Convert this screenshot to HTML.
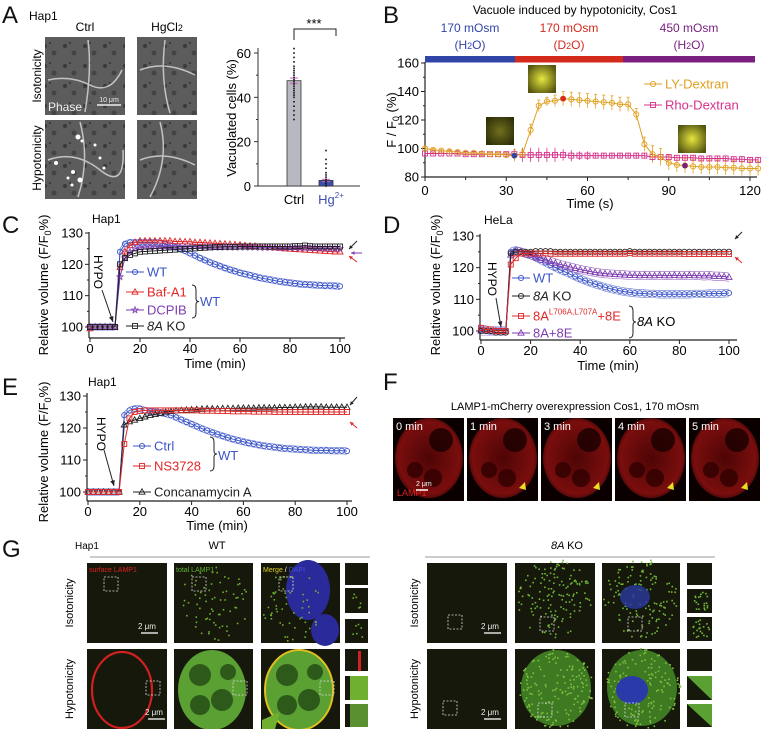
<!DOCTYPE html>
<html><head><meta charset="utf-8">
<style>
html,body{margin:0;padding:0;background:#fff;}
svg{display:block;font-family:"Liberation Sans",Arial,sans-serif;}
</style></head>
<body>
<svg id="fig" width="762" height="729" viewBox="0 0 762 729" xmlns="http://www.w3.org/2000/svg">
<defs>
<radialGradient id="redcell" cx="50%" cy="50%" r="60%"><stop offset="0" stop-color="#5a0606"/><stop offset="0.75" stop-color="#8e1010"/><stop offset="1" stop-color="#120000"/></radialGradient>
<radialGradient id="yel" cx="50%" cy="50%" r="60%"><stop offset="0" stop-color="#e6e640"/><stop offset="1" stop-color="#555510"/></radialGradient>
<radialGradient id="yeld" cx="50%" cy="50%" r="60%"><stop offset="0" stop-color="#707020"/><stop offset="1" stop-color="#303008"/></radialGradient>
<pattern id="phase" width="20" height="20" patternUnits="userSpaceOnUse"><rect width="20" height="20" fill="#5c5c5c"/><circle cx="5" cy="6" r="2" fill="#3a3a3a"/><circle cx="14" cy="13" r="2.5" fill="#444"/><circle cx="10" cy="3" r="1" fill="#333"/></pattern>
</defs>

<g font-size="24" fill="#111">
<text x="2" y="23">A</text>
<text x="383" y="23">B</text>
<text x="2" y="233">C</text>
<text x="383" y="233">D</text>
<text x="2" y="395">E</text>
<text x="383" y="390">F</text>
<text x="2" y="557">G</text>
</g>

<g>
<text x="29" y="20" font-size="12">Hap1</text>
<text x="85" y="31" font-size="12" text-anchor="middle">Ctrl</text>
<text x="167" y="31" font-size="12" text-anchor="middle">HgCl<tspan font-size="9">2</tspan></text>
<text transform="translate(41,76) rotate(-90)" font-size="12" text-anchor="middle">Isotonicity</text>
<text transform="translate(41,158) rotate(-90)" font-size="12" text-anchor="middle">Hypotonicity</text>
<rect x="45" y="37" width="80" height="78" fill="url(#phase)"/>
<rect x="137" y="37" width="60" height="78" fill="url(#phase)"/>
<rect x="45" y="120" width="80" height="79" fill="url(#phase)"/>
<rect x="137" y="120" width="60" height="79" fill="url(#phase)"/>
<g stroke="#ddd" stroke-width="1.5" fill="none" opacity="0.8">
<path d="M48,80 Q70,75 90,85 T122,70"/><path d="M88,40 Q92,70 85,112"/>
<path d="M140,70 Q165,60 195,75"/><path d="M165,40 Q160,80 170,113"/>
<path d="M48,160 Q75,150 100,170 T123,150"/><path d="M80,122 Q90,160 78,197"/>
<path d="M140,160 Q165,150 195,165"/><path d="M160,122 Q170,160 150,197"/>
</g>
<g fill="#fff">
<circle cx="78" cy="137" r="2.5"/><circle cx="82" cy="141" r="1.5"/><circle cx="56" cy="163" r="2"/><circle cx="73" cy="172" r="2"/><circle cx="80" cy="180" r="2.5"/><circle cx="72" cy="185" r="1.5"/><circle cx="100" cy="158" r="1.5"/><circle cx="104" cy="168" r="1.5"/><circle cx="68" cy="178" r="1.5"/><circle cx="95" cy="145" r="1.5"/>
</g>
<text x="48" y="111" font-size="12" fill="#eee">Phase</text>
<line x1="97" y1="105" x2="121" y2="105" stroke="#eee" stroke-width="1.5"/>
<text x="109" y="102" font-size="7" fill="#eee" text-anchor="middle">10 μm</text>
</g>
<g id="panelA"></g>
<g id="panelB"></g>
<g id="panelC"></g>
<g id="panelD"></g>
<g id="panelE"></g>

<g>
<text x="575" y="410" font-size="11" text-anchor="middle">LAMP1-mCherry overexpression Cos1, 170 mOsm</text>
<g id="fimgs"></g>
</g>

<g>
<text x="75" y="549" font-size="10">Hap1</text>
<text x="217" y="549" font-size="11" text-anchor="middle">WT</text>
<line x1="90" y1="557" x2="370" y2="557" stroke="#999"/>
<text x="567" y="549" font-size="11" text-anchor="middle" font-style="italic">8A <tspan font-style="normal">KO</tspan></text>
<line x1="425" y1="557" x2="715" y2="557" stroke="#999"/>
<g id="gimgs"></g>
</g>
</svg>

<script>
// ---------- DATA ----------
const barCats = ["Ctrl", "Hg2+"];
const barVals = [47.5, 2.5];
const barErr = [1.2, 0.5];
const bTimes = [0,3,6,9,12,15,18,21,24,27,30,33,36,39,42,45,48,51,54,57,60,63,66,69,72,75,78,81,84,87,90,93,96,99,102,105,108,111,114,117,120,123];
const bLY = [100,99,98.5,98,97.5,97,97,96.5,96,96,95.5,95,96,113,130,133,133.5,135,134.5,134,133.5,133,132.5,132,131,131,124,103,96,94,90,88.5,88,87.5,87,87,87,86.5,86.5,86,86,86];
const bLYerr = [1,1,1,1,1,1,1,1,1,1,2,4,3,4,4,3,4,5,5,5,5,5,5,5,5,5,4,5,6,6,5,5,5,5,5,5,5,5,5,5,5,5];
const bRho = [96.5,96.5,96.5,96.5,96.5,96,96,96,96,96,96,96,95.5,95.5,95.5,95.5,95.5,95.5,95,95,95,95,95,95,95,95,95,95,94,94,94,93.5,93.5,93.5,93,93,93,93,92.5,92.5,92,92];
const bRhoErr = [1,1,1,1,1,1,1,1,1,1,2,4,5,5,5,5,5,4,4,3,3,2,2,2,2,2,2,2,3,3,2,2,2,2,2,2,2,2,2,2,2,2];
const bTicksX = [0,30,60,90,120];
const bTicksY = [80,100,120,140,160];
const tMin = [0,2,4,6,8,10,12,14,16,18,20,22,24,26,28,30,32,34,36,38,40,42,44,46,48,50,52,54,56,58,60,62,64,66,68,70,72,74,76,78,80,82,84,86,88,90,92,94,96,98,100];
const cWT = [100,100,100,100,100,100,124,126.5,127,127,127,127,127,127,126.8,126.5,126,125.5,125,124.3,123.5,122.8,122,121.3,120.6,120,119.4,118.8,118.3,117.8,117.3,116.9,116.5,116.1,115.7,115.4,115.1,114.8,114.5,114.3,114.1,113.9,113.7,113.6,113.5,113.4,113.3,113.2,113.2,113.1,113];
const cBaf = [99.5,100,100,100,100,100,119,124,126,127,127.5,127.5,127.5,127.5,127.5,127.5,127.5,127.3,127.3,127.2,127.2,127,127,126.9,126.8,126.7,126.6,126.5,126.4,126.3,126.2,126,125.9,125.8,125.6,125.5,125.4,125.3,125.2,125,124.9,124.8,124.7,124.6,124.5,124.4,124.3,124.2,124.1,124,124];
const cDCPIB = [100,100,100,100,100,100,116,122,124,125,125.3,125.5,125.5,125.6,125.6,125.6,125.6,125.6,125.6,125.6,125.6,125.6,125.6,125.6,125.6,125.5,125.5,125.5,125.5,125.5,125.5,125.5,125.5,125.5,125.4,125.4,125.4,125.4,125.3,125.3,125.3,125.3,125.2,125.2,125.2,125.2,125.1,125.1,125.1,125,125];
const cKO = [100,100,100,100,100,100,120,122,123,123.5,124,124.1,124.2,124.3,124.4,124.5,124.6,124.7,124.8,124.9,125,125.1,125.2,125.3,125.4,125.5,125.5,125.6,125.6,125.6,125.7,125.7,125.7,125.7,125.7,125.7,125.7,125.7,125.7,125.7,125.7,125.8,125.8,126,125.8,125.7,125.7,125.7,125.7,125.7,125.7];
const dWT = [100.5,100.5,100,100,100,100,125,125.5,125,124.5,124,123.2,122.4,121.6,120.8,120,119.3,118.6,117.9,117.2,116.5,115.9,115.3,114.8,114.3,113.8,113.4,113,112.7,112.4,112.2,112,111.9,111.8,111.7,111.7,111.6,111.6,111.6,111.6,111.6,111.6,111.6,111.7,111.7,111.7,111.8,111.8,111.8,111.9,112];
const dKO = [100,100,100,99.5,99.5,99.5,124.5,125,125,125,125,125.2,125.2,125.2,125.2,125,125,125,125,125,125,125,125,125,125,125,125,125,125,125,125.2,125,125,125,125,125,125,125,125,125,125,125,125,125,125,125,125,125,125,125,125];
const dMut = [101,100.5,100.5,100,100,100,121,123,124.5,124.5,124.5,124.5,124.5,124.5,124.4,124.4,124.4,124.4,124.4,124.4,124.4,124.4,124.4,124.4,124.4,124.4,124.4,124.4,124.4,124.4,124.6,124.4,124.4,124.4,124.4,124.4,124.4,124.4,124.4,124.4,124.4,124.3,124.3,124.3,124.3,124.3,124.3,124.3,124.3,124.3,124.3];
const d8A8E = [100,100,100,100,100,100,124,125,125,124.5,124,123.5,123,122.5,122,121.5,121,120.6,120.2,119.8,119.4,119.1,118.8,118.5,118.3,118.1,118,117.9,117.8,117.7,117.6,117.6,117.5,117.6,117.5,117.5,117.6,117.5,117.5,117.6,117.5,117.5,117.6,117.5,117.5,117.4,117.5,117.3,117.3,117.2,117];
const eCtrl = [100,100,100,100,100,100,100,124,125.5,126,126,125.5,125.2,125,124.8,124.5,124,123.3,122.6,121.9,121.2,120.5,119.8,119.2,118.6,118,117.5,117,116.5,116.1,115.7,115.3,115,114.7,114.4,114.2,114,113.8,113.6,113.5,113.4,113.3,113.2,113.1,113,113,113,112.9,112.9,112.9,112.8];
const eNS = [100,100,100,100,100,100,100,115,123,125,125.3,125.5,125.5,125.5,125.5,125.5,125.5,125.5,125.5,125.5,125.5,125.5,125.4,125.4,125.4,125.3,125.3,125.3,125.2,125.2,125.2,125.2,125.1,125.1,125.1,125.1,125,125,125,125,125,125,125,125,125,125,125,125,125,125,125];
const eCon = [100,100,100,100,100,100,100,121,122,122.5,123,123.5,124,124.3,124.6,125,125.2,125.4,125.5,125.6,125.7,125.8,125.9,126,126,126,126.1,126.1,126.1,126.2,126.2,126.2,126.2,126.3,126.3,126.3,126.3,126.4,126.4,126.4,126.5,126.5,126.6,126.6,126.6,126.6,126.5,126.5,126.5,126.5,126.5];
const tickMin = [0,20,40,60,80,100];
const tickVol = [100,110,120,130];

// ---------- HELPERS ----------
const NS = "http://www.w3.org/2000/svg";
function mk(parent, tag, attrs, text){
  const el = document.createElementNS(NS, tag);
  for (const k in attrs) el.setAttribute(k, attrs[k]);
  if (text !== undefined) el.textContent = text;
  parent.appendChild(el);
  return el;
}
function lin(d0,d1,r0,r1){ return v => r0 + (v-d0)*(r1-r0)/(d1-d0); }

function marker(g, type, cx, cy, color, filled){
  let el;
  const fill = filled ? color : "none";
  if (type==="circle") el = mk(g,"circle",{cx:cx,cy:cy,r:2.6,fill:fill,stroke:color,"stroke-width":0.9});
  else if (type==="square") el = mk(g,"rect",{x:cx-2.5,y:cy-2.5,width:5,height:5,fill:fill,stroke:color,"stroke-width":0.9});
  else if (type==="triangle") el = mk(g,"polygon",{points:`${cx},${cy-3.2} ${cx-3},${cy+2.2} ${cx+3},${cy+2.2}`,fill:fill,stroke:color,"stroke-width":0.9});
  else {
    let p=[]; for(let i=0;i<10;i++){const r=i%2?1.4:3.3;const a=-Math.PI/2+i*Math.PI/5;p.push((cx+r*Math.cos(a)).toFixed(1)+","+(cy+r*Math.sin(a)).toFixed(1));}
    el = mk(g,"polygon",{points:p.join(" "),fill:fill,stroke:color,"stroke-width":0.8});
  }
  
  
  return el;
}

function series(g, xs, ys, X, Y, color, type, name, band){
  const sg = mk(g,"g",{});
  
  
  if (band){
    [band,-band].forEach(o=>{
      const ln = mk(sg,"polyline",{points:xs.map((x,i)=>X(x)+","+Y(ys[i]+o)).join(" "),fill:"none",stroke:color,"stroke-width":0.6,opacity:0.8});
      
      
    });
  }
  const pl = mk(sg,"polyline",{points:xs.map((x,i)=>X(x)+","+Y(ys[i])).join(" "),fill:"none",stroke:color,"stroke-width":1});
  
  
  xs.forEach((x,i)=>marker(sg,type,X(x),Y(ys[i]),color,false));
}

function axes(g, X, Y, xt, yt, x0, x1, yb, yTop, minorY, xlabelY, title, titleX, titleY, ylab, ylabX, ylabY){
  const ax = mk(g,"line",{x1:x0,y1:yb,x2:x1,y2:yb,stroke:"#222","stroke-width":1.2});
  
  
  const ay = mk(g,"line",{x1:x0,y1:yb,x2:x0,y2:yTop,stroke:"#222","stroke-width":1.2});
  
  
  xt.forEach(v=>{
    mk(g,"line",{x1:X(v),y1:yb,x2:X(v),y2:yb+4,stroke:"#222"});
    const t = mk(g,"text",{x:X(v),y:xlabelY,"font-size":13,"text-anchor":"middle"},String(v));
    
    
  });
  yt.forEach(v=>{
    mk(g,"line",{x1:x0-4,y1:Y(v),x2:x0,y2:Y(v),stroke:"#222"});
    const t = mk(g,"text",{x:x0-6,y:Y(v)+4.5,"font-size":13,"text-anchor":"end"},String(v));
    
    
  });
  if (minorY){
    for(let i=0;i<yt.length-1;i++){const m=(yt[i]+yt[i+1])/2; mk(g,"line",{x1:x0-2,y1:Y(m),x2:x0,y2:Y(m),stroke:"#222"});}
  }
  const xt2 = mk(g,"text",{x:titleX,y:titleY,"font-size":13,"text-anchor":"middle"},title);
  
  
  const yl = mk(g,"text",{transform:`translate(${ylabX},${ylabY}) rotate(-90)`,"font-size":13,"text-anchor":"middle"});
  yl.innerHTML = ylab;
  
  
}

function legendItem(g, x, y, type, color, label){
  const lg = mk(g,"g",{});
  
  
  mk(lg,"line",{x1:x,y1:y,x2:x+18,y2:y,stroke:color,"stroke-width":1});
  marker(lg,type,x+9,y,color,false);
  const t = mk(lg,"text",{x:x+21,y:y+4.5,"font-size":13,fill:color});
  t.innerHTML = label;
  return lg;
}
function hypo(g, x, y, ax1, ay1, ax2, ay2){
  const t = mk(g,"text",{transform:`translate(${x},${y}) rotate(90)`,"font-size":12,"text-anchor":"start"},"HYPO");
  
  
  const a = mk(g,"line",{x1:ax1,y1:ay1,x2:ax2,y2:ay2,stroke:"#222","stroke-width":1});
  
  
  const ang = Math.atan2(ay2-ay1, ax2-ax1);
  const p = [[ax2,ay2],[ax2-6*Math.cos(ang-0.4),ay2-6*Math.sin(ang-0.4)],[ax2-6*Math.cos(ang+0.4),ay2-6*Math.sin(ang+0.4)]];
  mk(g,"polygon",{points:p.map(q=>q.join(",")).join(" "),fill:"#222"});
}
function sideArrow(g, x1,y1,x2,y2,color){
  const a = mk(g,"line",{x1:x1,y1:y1,x2:x2,y2:y2,stroke:color,"stroke-width":1});
  
  
  const ang = Math.atan2(y2-y1, x2-x1);
  mk(g,"polygon",{points:[[x2,y2],[x2-4*Math.cos(ang-0.5),y2-4*Math.sin(ang-0.5)],[x2-4*Math.cos(ang+0.5),y2-4*Math.sin(ang+0.5)]].map(q=>q.join(",")).join(" "),fill:color});
}
function brace(g, x, y1, y2){
  const m=(y1+y2)/2;
  const b = mk(g,"path",{d:`M${x},${y1} Q${x+4},${y1} ${x+4},${y1+5} L${x+4},${m-3} Q${x+4},${m} ${x+7},${m} Q${x+4},${m} ${x+4},${m+3} L${x+4},${y2-5} Q${x+4},${y2} ${x},${y2}`,fill:"none",stroke:"#222","stroke-width":1});
  
  
}

// ---------- PANEL A ----------
(function(){
  const g = document.getElementById("panelA");
  const Y = lin(0,60,186,53);
  const cx = [294, 326];
  const colors = ["#b8b8c0","#3a4fb0"];
  mk(g,"line",{x1:258,y1:186,x2:360,y2:186,stroke:"#333","stroke-width":1});
  mk(g,"line",{x1:258,y1:186,x2:258,y2:48,stroke:"#333","stroke-width":1});
  [0,20,40,60].forEach(v=>{
    mk(g,"line",{x1:254,y1:Y(v),x2:258,y2:Y(v),stroke:"#333"});
    const t=mk(g,"text",{x:251,y:Y(v)+5,"font-size":13,"text-anchor":"end"},String(v));
    
    
  });
  [10,30,50].forEach(v=>mk(g,"line",{x1:256,y1:Y(v),x2:258,y2:Y(v),stroke:"#333"}));
  barVals.forEach((v,i)=>{
    const r = mk(g,"rect",{x:cx[i]-7,y:Y(v),width:14,height:Y(0)-Y(v),fill:colors[i],stroke:"#333","stroke-width":0.8});
    
    
    mk(g,"line",{x1:cx[i]-4,y1:Y(v+barErr[i]),x2:cx[i]+4,y2:Y(v+barErr[i]),stroke:"#c060c0"});
    mk(g,"line",{x1:cx[i]-4,y1:Y(v-barErr[i]),x2:cx[i]+4,y2:Y(v-barErr[i]),stroke:"#c060c0"});
  });
  const dotsCtrl=[30,32,34,36,38,40,41,42,43,44,45,46,47,48,49,50,51,52,53,54,56,58,60,62];
  const dotsHg=[0,1,2,3,4,5,6,8,10,12,16];
  dotsCtrl.forEach(v=>{const d=mk(g,"rect",{x:cx[0]-0.8,y:Y(v)-0.8,width:1.6,height:1.6,fill:"#111"});});
  dotsHg.forEach(v=>{const d=mk(g,"rect",{x:cx[1]-0.8,y:Y(v)-0.8,width:1.6,height:1.6,fill:"#111"});});
  mk(g,"path",{d:"M294,40 L294,29 L336,29 L336,36",fill:"none",stroke:"#222"});
  const s=mk(g,"text",{x:314,y:28,"font-size":13,"text-anchor":"middle"},"***");
  
  
  const l1=mk(g,"text",{x:cx[0],y:204,"font-size":13,"text-anchor":"middle"},"Ctrl");
  
  
  const l2=mk(g,"text",{x:331,y:204,"font-size":13,"text-anchor":"middle",fill:"#3a4fb0"});
  l2.innerHTML='Hg<tspan font-size="8" dy="-6">2+</tspan>';
  
  
  const yl=mk(g,"text",{transform:"translate(236,118) rotate(-90)","font-size":13,"text-anchor":"middle"},"Vacuolated cells (%)");
  
  
})();

// ---------- PANEL B ----------
(function(){
  const g = document.getElementById("panelB");
  const X = lin(0,120,425,750), Y = lin(80,160,177,63);
  const t=mk(g,"text",{x:575,y:14,"font-size":12,"text-anchor":"middle"},"Vacuole induced by hypotonicity, Cos1");
  
  
  const segs=[[425,515,"#3144a8","170 mOsm","(H<tspan font-size='9'>2</tspan>O)"],[515,623,"#d42a1c","170 mOsm","(D<tspan font-size='9'>2</tspan>O)"],[623,755,"#7a2080","450 mOsm","(H<tspan font-size='9'>2</tspan>O)"]];
  segs.forEach(s=>{
    const r=mk(g,"rect",{x:s[0],y:56,width:s[1]-s[0],height:6.5,fill:s[2]});
    
    
    const a=mk(g,"text",{x:(s[0]+s[1])/2,y:32,"font-size":12,"text-anchor":"middle",fill:s[2]},s[3]);
    
    
    const b=mk(g,"text",{x:(s[0]+s[1])/2,y:49,"font-size":12,"text-anchor":"middle",fill:s[2]});
    b.innerHTML=s[4];
    
    
  });
  [[486,117,28,28,"url(#yeld)"],[528,65,28,28,"url(#yel)"],[678,125,28,28,"url(#yel)"]].forEach(r=>{
    const e=mk(g,"rect",{x:r[0],y:r[1],width:r[2],height:r[3],fill:r[4]});
    
    
  });
  axes(g,X,Y,bTicksX,bTicksY,425,757,177,62,true,195,"Time (s)",590,208,"F / F<tspan font-size='9' dy='3'>0</tspan><tspan dy='-3'> (%)</tspan>",396,120);
  [15,45,75,105].forEach(v=>mk(g,"line",{x1:X(v),y1:177,x2:X(v),y2:180,stroke:"#222"}));
  const cY="#e0a020", cR="#d6308a";
  bTimes.forEach((tt,i)=>{
    mk(g,"line",{x1:X(tt),y1:Y(bRho[i]-bRhoErr[i]),x2:X(tt),y2:Y(bRho[i]+bRhoErr[i]),stroke:cR,"stroke-width":0.8});
    mk(g,"line",{x1:X(tt),y1:Y(bLY[i]-bLYerr[i]),x2:X(tt),y2:Y(bLY[i]+bLYerr[i]),stroke:cY,"stroke-width":0.8});
    mk(g,"line",{x1:X(tt)-1.5,y1:Y(bLY[i]+bLYerr[i]),x2:X(tt)+1.5,y2:Y(bLY[i]+bLYerr[i]),stroke:cY,"stroke-width":0.8});
  });
  series(g,bTimes,bRho,X,Y,cR,"square","rho-dextran-series");
  series(g,bTimes,bLY,X,Y,cY,"circle","ly-dextran-series");
  [[33,"#3144a8"],[51,"#d42a1c"],[96,"#7a2080"]].forEach(p=>{
    const i=bTimes.indexOf(p[0]);
    const c=mk(g,"circle",{cx:X(p[0]),cy:Y(bLY[i]),r:2.8,fill:p[1]});
    
    
  });
  legendItem(g,644,84,"circle",cY,"LY-Dextran");
  legendItem(g,644,105,"square",cR,"Rho-Dextran");
})();

const volLab = "Relative volume (F/F<tspan font-size='9' dy='3'>0</tspan><tspan dy='-3'>%)</tspan>";
const BLUE="#3b55c8", RED="#e02828", PURP="#7d3cb0", BLK="#222";

// ---------- PANEL C ----------
(function(){
  const g = document.getElementById("panelC");
  const X = lin(0,100,90,340), Y = lin(100,130,327,233);
  mk(g,"text",{x:92,y:223,"font-size":12},"Hap1");
  axes(g,X,Y,tickMin,tickVol,89,345,338,232,true,353,"Time (min)",215,368,volLab,48,285);
  series(g,tMin,cWT,X,Y,BLUE,"circle","series-wt",1.0);
  series(g,tMin,cBaf,X,Y,RED,"triangle","series-baf-a1");
  series(g,tMin,cDCPIB,X,Y,PURP,"star","series-dcpib");
  series(g,tMin,cKO,X,Y,BLK,"square","series-8a-ko");
  legendItem(g,126,272,"circle",BLUE,"WT");
  legendItem(g,126,292,"triangle",RED,"Baf-A1");
  legendItem(g,126,310,"star",PURP,"DCPIB");
  legendItem(g,126,326,"square",BLK,"<tspan font-style='italic'>8A</tspan> KO");
  brace(g,192,285,318);
  mk(g,"text",{x:200,y:306,"font-size":13,fill:BLUE},"WT");
  hypo(g,94,255,102,290,113,322);
  sideArrow(g,357,241,349,249,BLK);
  sideArrow(g,362,253,351,253,PURP);
  sideArrow(g,357,262,349,256,RED);
})();

// ---------- PANEL D ----------
(function(){
  const g = document.getElementById("panelD");
  const X = lin(0,100,481,729), Y = lin(100,130,331,236);
  mk(g,"text",{x:484,y:224,"font-size":12},"HeLa");
  axes(g,X,Y,tickMin,tickVol,480,737,340,234,true,355,"Time (min)",608,370,volLab,440,285);
  series(g,tMin,dWT,X,Y,BLUE,"circle","series-wt",1.2);
  series(g,tMin,d8A8E,X,Y,PURP,"triangle","series-8a-8e",1.3);
  series(g,tMin,dKO,X,Y,BLK,"circle","series-8a-ko");
  series(g,tMin,dMut,X,Y,RED,"square","series-8a-mutant-8e");
  legendItem(g,512,278,"circle",BLUE,"WT");
  legendItem(g,512,296,"circle",BLK,"<tspan font-style='italic'>8A</tspan> KO");
  legendItem(g,512,316,"square",RED,"8A<tspan font-size='8' dy='-6'>L706A,L707A</tspan><tspan dy='6'>+8E</tspan>");
  legendItem(g,512,333,"triangle",PURP,"8A+8E");
  brace(g,629,306,338);
  mk(g,"text",{x:637,y:326,"font-size":13},"").innerHTML="<tspan font-style='italic'>8A</tspan> KO";
  hypo(g,488,262,496,298,501,327);
  sideArrow(g,742,232,735,239,BLK);
  sideArrow(g,742,263,735,257,RED);
})();

// ---------- PANEL E ----------
(function(){
  const g = document.getElementById("panelE");
  const X = lin(0,100,88,347), Y = lin(100,130,492,396);
  mk(g,"text",{x:88,y:386,"font-size":12},"Hap1");
  axes(g,X,Y,tickMin,tickVol,87,352,501,393,true,516,"Time (min)",217,530,volLab,48,452);
  series(g,tMin,eCtrl,X,Y,BLUE,"circle","series-ctrl",1.0);
  series(g,tMin,eCon,X,Y,BLK,"triangle","series-concanamycin-a");
  series(g,tMin,eNS,X,Y,RED,"square","series-ns3728");
  legendItem(g,133,446,"circle",BLUE,"Ctrl");
  legendItem(g,133,466,"square",RED,"NS3728");
  legendItem(g,133,492,"triangle",BLK,"Concanamycin A");
  brace(g,210,437,471);
  mk(g,"text",{x:218,y:460,"font-size":13,fill:BLUE},"WT");
  hypo(g,97,417,104,450,114,486);
  sideArrow(g,357,397,350,405,BLK);
  sideArrow(g,357,428,350,422,RED);
})();

// ---------- PANEL F images ----------
(function(){
  const g = document.getElementById("fimgs");
  const labels=["0 min","1 min","3 min","4 min","5 min"];
  labels.forEach((lb,i)=>{
    const x=393+i*74;
    const r=mk(g,"rect",{x:x,y:418,width:71,height:83,fill:"#0a0000"});
    
    
    mk(g,"ellipse",{cx:x+36,cy:458,rx:34,ry:40,fill:"url(#redcell)",opacity:0.85});
    mk(g,"circle",{cx:x+48,cy:440,r:12,fill:"#180000",opacity:0.8});
    mk(g,"circle",{cx:x+22,cy:470,r:8,fill:"#300000",opacity:0.8});
    mk(g,"circle",{cx:x+40,cy:478,r:9,fill:"#300000",opacity:0.8});
    const t=mk(g,"text",{x:x+3,y:430,"font-size":11,fill:"#fff"},lb);
    
    
    if(i>0){mk(g,"polygon",{points:`${x+52},${488} ${x+58},${482} ${x+59},${490}`,fill:"#e8e020"});}
  });
  mk(g,"text",{x:397,y:496,"font-size":9,fill:"#e02020"},"LAMP1");
  mk(g,"line",{x1:416,y1:490,x2:428,y2:490,stroke:"#fff","stroke-width":1.5});
  mk(g,"text",{x:416,y:486,"font-size":7,fill:"#fff"},"2 μm");
})();

// ---------- PANEL G images ----------
(function(){
  const g = document.getElementById("gimgs");
  const BG="#15180a";
  function img(x,y,w,h,name){const r=mk(g,"rect",{x:x,y:y,width:w,height:h,fill:BG});return r;}
  function box(x,y){mk(g,"rect",{x:x,y:y,width:14,height:14,fill:"none",stroke:"#ddd","stroke-width":0.8,"stroke-dasharray":"2,1.5"});}
  function speck(cx,cy,rx,ry,n,color,seed){let s=seed;for(let i=0;i<n;i++){s=(s*9301+49297)%233280;const a=s/233280*6.283;s=(s*9301+49297)%233280;const rr=Math.sqrt(s/233280);mk(g,"rect",{x:cx+Math.cos(a)*rx*rr,y:cy+Math.sin(a)*ry*rr,width:1.6,height:1.6,fill:color});}}
  mk(g,"text",{transform:"translate(73,603) rotate(-90)","font-size":11,"text-anchor":"middle"},"Isotonicity");
  mk(g,"text",{transform:"translate(73,689) rotate(-90)","font-size":11,"text-anchor":"middle"},"Hypotonicity");
  mk(g,"text",{transform:"translate(418,603) rotate(-90)","font-size":11,"text-anchor":"middle"},"Isotonicity");
  mk(g,"text",{transform:"translate(418,689) rotate(-90)","font-size":11,"text-anchor":"middle"},"Hypotonicity");
  img(87,563,80,80,"wt-iso-surface"); box(104,577);
  img(174,563,79,80,"wt-iso-total"); speck(213,603,35,38,70,"#6fb030",3); box(192,577);
  img(261,563,79,80,"wt-iso-merge"); mk(g,"ellipse",{cx:308,cy:590,rx:22,ry:30,fill:"#2a2a9a"}); mk(g,"ellipse",{cx:325,cy:630,rx:14,ry:16,fill:"#2a2a9a"}); speck(290,605,30,36,55,"#6fb030",7); box(279,577);
  img(87,649,80,80,"wt-hypo-surface"); mk(g,"ellipse",{cx:122,cy:690,rx:30,ry:38,fill:"none",stroke:"#d02020","stroke-width":2.2});
  img(174,649,79,80,"wt-hypo-total"); mk(g,"ellipse",{cx:212,cy:690,rx:34,ry:40,fill:"#5aa032"}); [[200,675,11],[222,700,11],[200,705,10],[228,672,8]].forEach(c=>mk(g,"circle",{cx:c[0],cy:c[1],r:c[2],fill:"#2d5a1a"}));
  img(261,649,79,80,"wt-hypo-merge"); mk(g,"ellipse",{cx:299,cy:690,rx:34,ry:40,fill:"#5aa032",stroke:"#e0c020","stroke-width":2}); [[287,675,11],[309,700,11],[287,705,10],[315,672,8]].forEach(c=>mk(g,"circle",{cx:c[0],cy:c[1],r:c[2],fill:"#2d5a1a"}));
  mk(g,"path",{d:"M262,720 L280,712 L275,729 L262,729Z",fill:"#6fb030"});
  box(146,681); box(233,681); box(320,681);
  [[563,24],[587,27],[617,26]].forEach((r,i)=>{img(345,r[0]+i,23,r[1]-2,"wt-iso-inset");speck(356,r[0]+i+12,8,8,i?6:0,"#6fb030",11+i);});
  [[649,24],[676,26],[704,25]].forEach((r,i)=>{img(345,r[0],23,r[1]-2,"wt-hypo-inset"); if(i===0) mk(g,"rect",{x:358,y:r[0]+2,width:3,height:20,fill:"#d02020"}); else mk(g,"rect",{x:350,y:r[0],width:18,height:r[1]-2,fill:i===1?"#6fb030":"#5a9030"});});
  img(427,563,80,80,"ko-iso-surface"); box(448,615);
  img(515,563,80,80,"ko-iso-total"); speck(555,598,38,40,140,"#70b838",21); box(540,617);
  img(602,563,78,80,"ko-iso-merge"); speck(640,598,37,40,130,"#70b838",33); mk(g,"ellipse",{cx:635,cy:597,rx:15,ry:12,fill:"#2a3aa0",opacity:0.8}); box(628,617);
  [[563,24],[589,26],[617,26]].forEach((r,i)=>{img(687,r[0],25,r[1]-2,"ko-iso-inset"); if(i) speck(700,r[0]+12,9,10,20,"#70b838",40+i);});
  img(427,649,80,80,"ko-hypo-surface"); box(443,701);
  img(515,649,80,80,"ko-hypo-total"); mk(g,"ellipse",{cx:556,cy:688,rx:35,ry:38,fill:"#3d7a22"}); speck(556,688,38,40,160,"#80c040",51); box(538,703);
  img(602,649,78,80,"ko-hypo-merge"); mk(g,"ellipse",{cx:642,cy:688,rx:35,ry:38,fill:"#3d7a22"}); speck(642,688,38,40,150,"#80c040",61); mk(g,"ellipse",{cx:632,cy:690,rx:16,ry:14,fill:"#2a3aa8"}); box(625,703);
  [[649,24],[676,26],[704,25]].forEach((r,i)=>{img(687,r[0],25,r[1]-2,"ko-hypo-inset"); if(i) mk(g,"path",{d:`M${687},${r[0]} L${712},${r[0]} L${712},${r[0]+r[1]-2} Z`,fill:"#5aa032"});});
  [[141,633],[148,719],[484,633],[484,719]].forEach(s=>{mk(g,"line",{x1:s[0],y1:s[1],x2:s[0]+17,y2:s[1],stroke:"#ddd","stroke-width":1.6});mk(g,"text",{x:s[0]-3,y:s[1]-4,"font-size":8,fill:"#eee"},"2 μm");});
  mk(g,"text",{x:89,y:572,"font-size":7,fill:"#e02020"},"surface LAMP1");
  mk(g,"text",{x:176,y:572,"font-size":7,fill:"#60b030"},"total LAMP1");
  mk(g,"text",{x:263,y:572,"font-size":7,fill:"#e0d020"}).innerHTML="Merge <tspan fill='#fff'>/</tspan> <tspan fill='#4050e0'>DAPI</tspan>";
})();
</script>
</body></html>
